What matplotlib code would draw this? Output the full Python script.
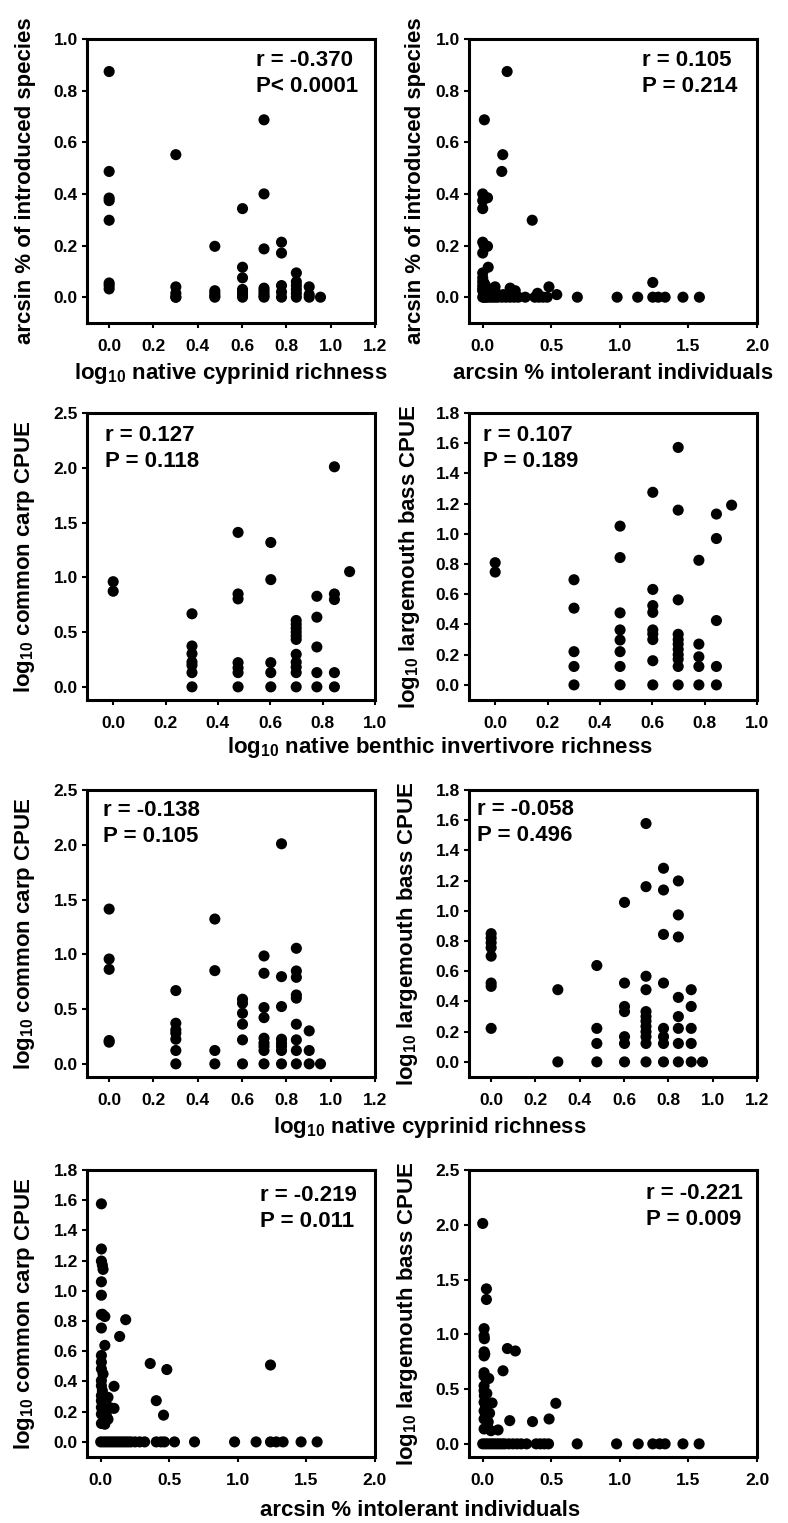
import numpy as np
import matplotlib
matplotlib.use("Agg")
import matplotlib.pyplot as plt

plt.rcParams['font.family'] = ['Liberation Sans', 'DejaVu Sans']
plt.rcParams['font.weight'] = 'bold'
plt.rcParams['mathtext.fontset'] = 'custom'
plt.rcParams['mathtext.rm'] = 'Liberation Sans:bold'
plt.rcParams['mathtext.bf'] = 'Liberation Sans:bold'
plt.rcParams['mathtext.it'] = 'Liberation Sans:bold'
plt.rcParams['mathtext.default'] = 'bf'

# log10 richness levels (1..9 species)
cyp_levels = [0.0, 0.301, 0.477, 0.602, 0.699, 0.778, 0.845, 0.903, 0.954]
ben_levels = [0.0, 0.301, 0.477, 0.602, 0.699, 0.778, 0.845, 0.903]

# panel 1: cyprinid richness vs arcsin % introduced species (y per level)
cyp_intro = [
    [0.874, 0.487, 0.384, 0.374, 0.298, 0.055, 0.045, 0.032],
    [0.552, 0.04, 0.015, 0.0, 0.0],
    [0.197, 0.025, 0.015, 0.005, 0.0],
    [0.343, 0.116, 0.075, 0.03, 0.02, 0.01, 0.0],
    [0.687, 0.40, 0.187, 0.035, 0.025, 0.015, 0.005, 0.0],
    [0.213, 0.171, 0.045, 0.02, 0.0],
    [0.094, 0.06, 0.045, 0.03, 0.015, 0.0],
    [0.04, 0.01, 0.0],
    [0.0],
]

# panel 2: arcsin % intolerant vs arcsin % introduced
intol_intro_x = [0.178, 0.012, 0.146, 0.139, 0.0, 0.035, 0.0, 0.0, 0.361, 0.0,
                 0.01, 0.035, 0.0, 0.04, 0.0, 0.0, 0.0, 0.01, 0.0, 0.02,
                 0.0, 0.09, 0.2, 0.237, 0.483, 0.54, 0.40, 1.24, 0.05, 0.07,
                 0.0, 0.01, 0.02, 0.1, 0.15, 0.22, 0.03,
                 0.0, 0.01, 0.02, 0.03, 0.05, 0.07, 0.09, 0.11, 0.14, 0.17,
                 0.2, 0.23, 0.26, 0.31, 0.38, 0.41, 0.44, 0.47, 0.69, 0.98,
                 1.13, 1.24, 1.28, 1.33, 1.46, 1.58]
intol_intro_y = [0.874, 0.687, 0.552, 0.487, 0.40, 0.385, 0.374, 0.343, 0.298, 0.213,
                 0.20, 0.197, 0.171, 0.116, 0.094, 0.075, 0.06, 0.055, 0.045, 0.045,
                 0.032, 0.04, 0.035, 0.025, 0.04, 0.01, 0.015, 0.057, 0.02, 0.01,
                 0.025, 0.015, 0.03, 0.015, 0.01, 0.01, 0.01,
                 0.0, 0.0, 0.0, 0.0, 0.0, 0.0, 0.0, 0.0, 0.0, 0.0,
                 0.0, 0.0, 0.0, 0.0, 0.0, 0.0, 0.0, 0.0, 0.0, 0.0,
                 0.0, 0.0, 0.0, 0.0, 0.0, 0.0]

# panel 3: benthic invertivore richness vs carp CPUE
ben_carp = [
    [0.96, 0.873],
    [0.667, 0.373, 0.303, 0.227, 0.197, 0.13, 0.0],
    [1.41, 0.848, 0.803, 0.221, 0.173, 0.13, 0.0],
    [1.318, 0.979, 0.221, 0.13, 0.0],
    [0.606, 0.57, 0.535, 0.5, 0.465, 0.433, 0.297, 0.225, 0.18, 0.13, 0.0],
    [0.827, 0.636, 0.364, 0.13, 0.0],
    [2.009, 0.848, 0.797, 0.13, 0.0],
    [1.052],
]

# panel 4: benthic invertivore richness vs bass CPUE
ben_bass = [
    [0.809, 0.747],
    [0.696, 0.508, 0.22, 0.122, 0.0],
    [1.051, 0.843, 0.477, 0.364, 0.297, 0.22, 0.122, 0.0],
    [1.275, 0.632, 0.525, 0.48, 0.364, 0.337, 0.30, 0.16, 0.0],
    [1.572, 1.157, 0.563, 0.335, 0.30, 0.27, 0.235, 0.20, 0.17, 0.122, 0.0],
    [0.825, 0.27, 0.186, 0.122, 0.0],
    [1.131, 0.969, 0.426, 0.122, 0.0],
    [1.19],
]

# panel 5: cyprinid richness vs carp CPUE
cyp_carp = [
    [1.413, 0.957, 0.863, 0.213, 0.198],
    [0.669, 0.371, 0.31, 0.28, 0.225, 0.122, 0.0],
    [1.322, 0.851, 0.122, 0.0],
    [0.59, 0.553, 0.462, 0.362, 0.219, 0.0],
    [0.985, 0.827, 0.514, 0.422, 0.234, 0.19, 0.16, 0.122, 0.0],
    [2.009, 0.796, 0.523, 0.225, 0.19, 0.16, 0.122, 0.0],
    [1.055, 0.848, 0.79, 0.629, 0.6, 0.362, 0.219, 0.122, 0.0],
    [0.301, 0.122, 0.0],
    [0.0],
]

# panel 6: cyprinid richness vs bass CPUE
cyp_bass = [
    [0.849, 0.82, 0.789, 0.756, 0.70, 0.522, 0.50, 0.222],
    [0.478, 0.0],
    [0.638, 0.222, 0.122, 0.0],
    [1.056, 0.522, 0.367, 0.333, 0.167, 0.122, 0.0],
    [1.578, 1.16, 0.567, 0.478, 0.333, 0.30, 0.27, 0.235, 0.20, 0.167, 0.122, 0.0],
    [1.282, 1.138, 0.844, 0.522, 0.222, 0.167, 0.122, 0.0],
    [1.198, 0.973, 0.827, 0.427, 0.30, 0.222, 0.122, 0.0],
    [0.478, 0.367, 0.222, 0.122, 0.0],
    [0.0],
]

# panel 7: arcsin % intolerant vs carp CPUE (as labelled)
intol_carp_x = [0.005, 0.005, 0.005, 0.012, 0.017, 0.005, 0.005, 0.012, 0.03, 0.005,
                0.182, 0.005, 0.138, 0.03, 0.005, 0.005, 0.005, 0.017, 0.005, 0.005,
                0.012, 0.005, 0.005, 0.005, 0.005, 0.005, 0.053, 0.065, 0.04, 0.053,
                0.03, 0.097, 0.097, 0.361, 0.482, 0.405, 0.458, 1.238,
                0.0, 0.02, 0.04, 0.06, 0.08, 0.10, 0.12, 0.14, 0.16, 0.18,
                0.2, 0.22, 0.25, 0.284, 0.32, 0.405, 0.44, 0.465, 0.538, 0.684,
                0.976, 1.133, 1.238, 1.28, 1.33, 1.461, 1.578]
intol_carp_y = [1.576, 1.277, 1.197, 1.17, 1.142, 1.06, 0.971, 0.845, 0.83, 0.843,
                0.809, 0.754, 0.698, 0.639, 0.572, 0.528, 0.483, 0.45, 0.406, 0.372,
                0.339, 0.306, 0.272, 0.228, 0.184, 0.122, 0.295, 0.228, 0.184, 0.15,
                0.117, 0.368, 0.222, 0.519, 0.479, 0.273, 0.177, 0.509,
                0.0, 0.0, 0.0, 0.0, 0.0, 0.0, 0.0, 0.0, 0.0, 0.0,
                0.0, 0.0, 0.0, 0.0, 0.0, 0.0, 0.0, 0.0, 0.0, 0.0,
                0.0, 0.0, 0.0, 0.0, 0.0, 0.0, 0.0]

# panel 8: arcsin % intolerant vs bass CPUE (as labelled)
intol_bass_x = [0.0, 0.027, 0.027, 0.01, 0.01, 0.012, 0.01, 0.01, 0.015, 0.18,
                0.238, 0.148, 0.01, 0.01, 0.027, 0.044, 0.01, 0.01, 0.012, 0.01,
                0.068, 0.01, 0.01, 0.04, 0.01, 0.112, 0.197, 0.363, 0.484, 0.533,
                0.03, 0.05, 0.02, 0.035, 0.06,
                0.0, 0.02, 0.04, 0.06, 0.08, 0.10, 0.12, 0.14, 0.16, 0.19,
                0.22, 0.25, 0.28, 0.32, 0.39, 0.42, 0.45, 0.48, 0.689, 0.976,
                1.134, 1.24, 1.29, 1.33, 1.46, 1.578]
intol_bass_y = [2.012, 1.415, 1.318, 1.052, 0.985, 0.96, 0.84, 0.803, 0.82, 0.87,
                0.848, 0.667, 0.65, 0.62, 0.59, 0.597, 0.53, 0.485, 0.44, 0.38,
                0.373, 0.30, 0.227, 0.2, 0.136, 0.127, 0.212, 0.203, 0.227, 0.37,
                0.46, 0.28, 0.33, 0.16, 0.12,
                0.0, 0.0, 0.0, 0.0, 0.0, 0.0, 0.0, 0.0, 0.0, 0.0,
                0.0, 0.0, 0.0, 0.0, 0.0, 0.0, 0.0, 0.0, 0.0, 0.0,
                0.0, 0.0, 0.0, 0.0, 0.0, 0.0]

stats = [
    ("r = -0.370", "P< 0.0001"), ("r = 0.105", "P = 0.214"),
    ("r = 0.127", "P = 0.118"), ("r = 0.107", "P = 0.189"),
    ("r = -0.138", "P = 0.105"), ("r = -0.058", "P = 0.496"),
    ("r = -0.219", "P = 0.011"), ("r = -0.221", "P = 0.009"),
]

ylabels = [
    "arcsin % of introduced species", "arcsin % of introduced species",
    "log$_{10}$ common carp CPUE", "log$_{10}$ largemouth bass CPUE",
    "log$_{10}$ common carp CPUE", "log$_{10}$ largemouth bass CPUE",
    "log$_{10}$ common carp CPUE", "log$_{10}$ largemouth bass CPUE",
]


def expand(levels, groups):
    xs, ys = [], []
    for lv, g in zip(levels, groups):
        xs += [lv] * len(g)
        ys += g
    return xs, ys


panels = [
    expand(cyp_levels, cyp_intro),
    (intol_intro_x, intol_intro_y),
    expand(ben_levels, ben_carp),
    expand(ben_levels, ben_bass),
    expand(cyp_levels, cyp_carp),
    expand(cyp_levels, cyp_bass),
    (intol_carp_x, intol_carp_y),
    (intol_bass_x, intol_bass_y),
]

W, H = 788, 1523
fig = plt.figure(figsize=(W / 100, H / 100), dpi=100)


def fx(px):
    return px / W


def fy(py):
    return 1 - py / H


col_left = [87, 469]
row_box = [(39, 323), (413, 700), (790, 1077), (1170, 1457)]
box_w = 288

xlims = [(-0.1, 1.2), (-0.1, 2.0), (-0.1, 1.0), (-0.1, 1.0),
         (-0.1, 1.2), (-0.1, 1.2), (-0.1, 2.0), (-0.1, 2.0)]
xticks = [np.arange(0, 1.21, 0.2), np.arange(0, 2.01, 0.5),
          np.arange(0, 1.01, 0.2), np.arange(0, 1.01, 0.2),
          np.arange(0, 1.21, 0.2), np.arange(0, 1.21, 0.2),
          np.arange(0, 2.01, 0.5), np.arange(0, 2.01, 0.5)]
ylims = [(-0.1, 1.0), (-0.1, 1.0), (-0.12, 2.5), (-0.1, 1.8),
         (-0.12, 2.5), (-0.1, 1.8), (-0.1, 1.8), (-0.12, 2.5)]
yticks = [np.arange(0, 1.01, 0.2), np.arange(0, 1.01, 0.2),
          np.arange(0, 2.51, 0.5), np.arange(0, 1.81, 0.2),
          np.arange(0, 2.51, 0.5), np.arange(0, 1.81, 0.2),
          np.arange(0, 1.81, 0.2), np.arange(0, 2.51, 0.5)]

# annotation: left x (px) and baseline of first line (px)
stat_pos = [(256, 66), (642, 66), (105, 441), (483, 441),
            (103, 816), (477, 815), (260, 1201), (646, 1199)]
ylab_x = [26, 416, 25, 409, 25, 408, 25, 408]

for i, (xs, ys) in enumerate(panels):
    r, c = divmod(i, 2)
    top, bot = row_box[r]
    ax = fig.add_axes([fx(col_left[c]), fy(bot), box_w / W, (bot - top) / H])
    ax.scatter(xs, ys, s=64, color='black', edgecolors='none', zorder=3)
    ax.set_xlim(*xlims[i])
    ax.set_ylim(*ylims[i])
    ax.set_xticks(xticks[i])
    ax.set_yticks(yticks[i])
    ax.set_xticklabels([f"{v:.1f}" for v in xticks[i]])
    ax.set_yticklabels([f"{v:.1f}" for v in yticks[i]])
    for sp in ax.spines.values():
        sp.set_linewidth(2.2)
    ax.tick_params(axis='both', direction='out', length=3.5, width=1.5,
                   labelsize=12.5)
    ax.tick_params(axis='x', pad=8)
    ax.tick_params(axis='y', pad=3)
    for t in ax.get_xticklabels() + ax.get_yticklabels():
        t.set_fontweight('bold')

    sx, sy = stat_pos[i]
    fig.text(fx(sx), fy(sy), stats[i][0], fontsize=16, fontweight='bold',
             ha='left', va='baseline')
    fig.text(fx(sx), fy(sy + 26), stats[i][1], fontsize=16, fontweight='bold',
             ha='left', va='baseline')

    fig.text(fx(ylab_x[i]), fy((top + bot) / 2), ylabels[i], fontsize=16,
             fontweight='bold', rotation=90, ha='center', va='center')

# x axis labels
fig.text(fx(231), fy(379), "log$_{10}$ native cyprinid richness", fontsize=16,
         fontweight='bold', ha='center', va='baseline')
fig.text(fx(613), fy(379), "arcsin % intolerant individuals", fontsize=16,
         fontweight='bold', ha='center', va='baseline')
fig.text(fx(440), fy(753), "log$_{10}$ native benthic invertivore richness",
         fontsize=16, fontweight='bold', ha='center', va='baseline')
fig.text(fx(430), fy(1133), "log$_{10}$ native cyprinid richness", fontsize=16,
         fontweight='bold', ha='center', va='baseline')
fig.text(fx(420), fy(1516), "arcsin % intolerant individuals", fontsize=16,
         fontweight='bold', ha='center', va='baseline')

fig.savefig("out.png", dpi=100)
